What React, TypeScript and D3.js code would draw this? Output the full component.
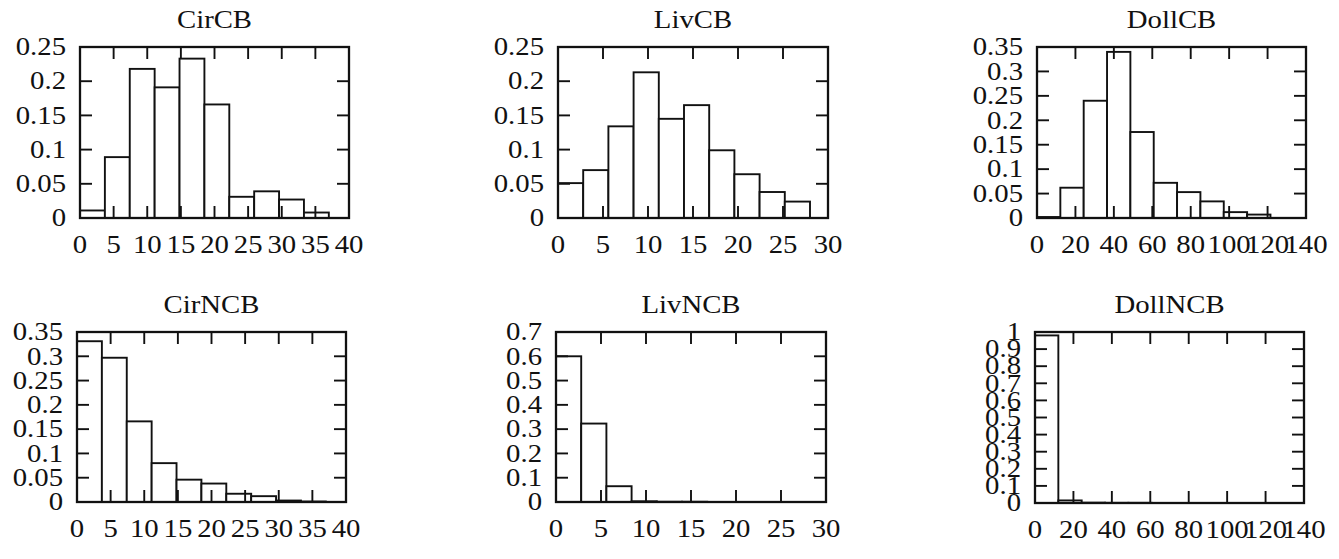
import * as d3 from "d3";

// histogram heights (fraction of samples per bin)
const cirCB = [0.011, 0.089, 0.218, 0.191, 0.233, 0.166, 0.031, 0.039, 0.027, 0.008];
const livCB = [0.051, 0.07, 0.134, 0.213, 0.145, 0.165, 0.099, 0.064, 0.038, 0.024];
const dollCB = [0.002, 0.062, 0.24, 0.34, 0.176, 0.072, 0.053, 0.034, 0.012, 0.007];
const cirNCB = [0.331, 0.297, 0.166, 0.08, 0.046, 0.038, 0.017, 0.012, 0.003, 0.001];
const livNCB = [0.6, 0.323, 0.065, 0.003, 0.001, 0.001, 0, 0, 0, 0];
const dollNCB = [0.98, 0.015, 0.002, 0.001, 0.001, 0, 0, 0, 0, 0];

// bin widths (x units)
const CIR_BIN = 3.7;
const LIV_BIN = 2.8;
const DOLL_BIN = 12.15;

const cirXTicks = [0, 5, 10, 15, 20, 25, 30, 35, 40];
const livXTicks = [0, 5, 10, 15, 20, 25, 30];
const dollXTicks = [0, 20, 40, 60, 80, 100, 120, 140];

const yTicks25 = [0, 0.05, 0.1, 0.15, 0.2, 0.25];
const yTicks35 = [0, 0.05, 0.1, 0.15, 0.2, 0.25, 0.3, 0.35];
const yTicks7 = [0, 0.1, 0.2, 0.3, 0.4, 0.5, 0.6, 0.7];
const yTicks10 = [0, 0.1, 0.2, 0.3, 0.4, 0.5, 0.6, 0.7, 0.8, 0.9, 1];

const titles = ["CirCB", "LivCB", "DollCB", "CirNCB", "LivNCB", "DollNCB"];
const series = [cirCB, livCB, dollCB, cirNCB, livNCB, dollNCB];
const bins = [CIR_BIN, LIV_BIN, DOLL_BIN, CIR_BIN, LIV_BIN, DOLL_BIN];
const xTickSets = [cirXTicks, livXTicks, dollXTicks, cirXTicks, livXTicks, dollXTicks];
const yTickSets = [yTicks25, yTicks25, yTicks35, yTicks35, yTicks7, yTicks10];

// frame boxes in page pixels: [left, top, right, bottom]
const frames = [
  [80, 47, 349, 218],
  [558, 47, 828, 218],
  [1037, 47, 1306, 218],
  [77, 332, 346, 502],
  [556, 332, 826, 502],
  [1035, 332, 1304, 503],
];

const FONT = "'Liberation Serif', 'Times New Roman', serif";
const INK = "#111";
const TICK = 12;
const STRETCH = 1.15; // the scan's lettering is wider than Times

const fmt = (v) => String(+v.toFixed(2));

// text drawn a little wider, anchored at (x, y)
function Txt({ x, y, anchor = "middle", dy = 0, children }) {
  return (
    <g transform={`translate(${x},${y}) scale(${STRETCH},1)`}>
      <text dy={dy} textAnchor={anchor} fontFamily={FONT} fontSize={25} fill={INK}>
        {children}
      </text>
    </g>
  );
}

function Panel({ idx }) {
  const [x0, y0, x1, y1] = frames[idx];
  const xt = xTickSets[idx];
  const yt = yTickSets[idx];
  const x = d3.scaleLinear().domain([xt[0], xt[xt.length - 1]]).range([x0, x1]);
  const y = d3.scaleLinear().domain([yt[0], yt[yt.length - 1]]).range([y1, y0]);
  const bw = bins[idx];

  return (
    <g>
      {/* bars */}
      {series[idx].map((v, i) => (
        <rect
          key={i}
          x={x(i * bw)}
          y={y(v)}
          width={x((i + 1) * bw) - x(i * bw)}
          height={y(0) - y(v)}
          fill="#fff"
          stroke={INK}
          strokeWidth={1.9}
        />
      ))}

      {/* inward ticks on all four sides */}
      {xt.map((t) => (
        <g key={"x" + t}>
          <line x1={x(t)} x2={x(t)} y1={y1} y2={y1 - TICK} stroke={INK} strokeWidth={1.9} />
          <line x1={x(t)} x2={x(t)} y1={y0} y2={y0 + TICK} stroke={INK} strokeWidth={1.9} />
          <Txt x={x(t)} y={y1 + 35}>{fmt(t)}</Txt>
        </g>
      ))}
      {yt.map((t) => (
        <g key={"y" + t}>
          <line x1={x0} x2={x0 + TICK} y1={y(t)} y2={y(t)} stroke={INK} strokeWidth={1.9} />
          <line x1={x1} x2={x1 - TICK} y1={y(t)} y2={y(t)} stroke={INK} strokeWidth={1.9} />
          <Txt x={x0 - 14} y={y(t)} dy="0.33em" anchor="end">{fmt(t)}</Txt>
        </g>
      ))}

      {/* frame */}
      <rect x={x0} y={y0} width={x1 - x0} height={y1 - y0} fill="none" stroke={INK} strokeWidth={2.3} />

      <Txt x={(x0 + x1) / 2} y={y0 - 19}>{titles[idx]}</Txt>
    </g>
  );
}

export default function App() {
  return (
    <div style={{ position: "absolute", left: 0, top: 0 }}>
      <svg width={1339} height={559} style={{ display: "block", background: "#fff" }}>
        {titles.map((_, i) => (
          <Panel key={i} idx={i} />
        ))}
      </svg>
    </div>
  );
}
